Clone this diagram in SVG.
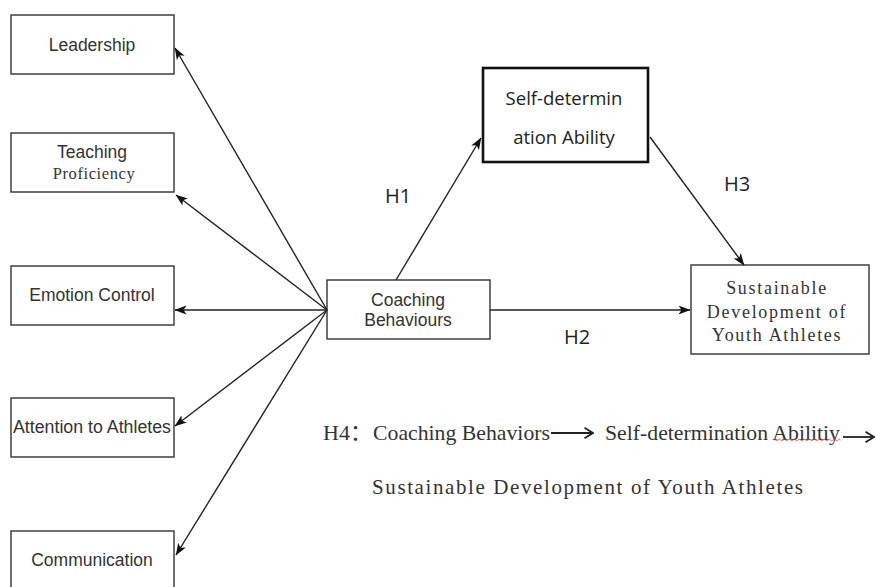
<svg xmlns="http://www.w3.org/2000/svg" width="876" height="587" viewBox="0 0 876 587">
<defs>
<marker id="ah" viewBox="0 0 12 10" refX="11.5" refY="5" markerWidth="12" markerHeight="10" markerUnits="userSpaceOnUse" orient="auto">
<path d="M0,0.5 L12,5 L0,9.5 L3,5 Z" fill="#111"/>
</marker>
<marker id="oh" viewBox="0 0 10 12" refX="9.5" refY="6" markerWidth="10" markerHeight="12" markerUnits="userSpaceOnUse" orient="auto">
<path d="M1,0.8 L9.5,6 L1,11.2" fill="none" stroke="#222" stroke-width="1.8"/>
</marker>
<style>
.box{fill:#fff;stroke:#333;stroke-width:1.4}
.sans{font-family:"Liberation Sans",Arial,sans-serif;font-size:17.5px;fill:#333;text-anchor:middle}
.ser{font-family:"Liberation Serif","Times New Roman",serif;fill:#333}
.cal{font-family:"Open Sans","Noto Sans",sans-serif;fill:#222;text-anchor:middle}
.con{stroke:#222;stroke-width:1.4;fill:none;marker-end:url(#ah)}
.h4a{stroke:#222;stroke-width:1.8;fill:none;marker-end:url(#oh)}
</style>
</defs>
<rect width="876" height="587" fill="#fff"/>
<g id="leadership"><rect class="box" x="11" y="15" width="163" height="59"/><text class="sans" x="92" y="51">Leadership</text></g>
<g id="teaching"><rect class="box" x="11" y="133" width="163" height="59"/><text class="sans" x="92" y="158">Teaching</text><text class="ser" x="94" y="179" font-size="16.5" text-anchor="middle" letter-spacing="0.6">Proficiency</text></g>
<g id="emotion"><rect class="box" x="11" y="266" width="163" height="59"/><text class="sans" x="92" y="301">Emotion Control</text></g>
<g id="attention"><rect class="box" x="11" y="398" width="163" height="59"/><text class="sans" x="92" y="433" textLength="158" lengthAdjust="spacingAndGlyphs">Attention to Athletes</text></g>
<g id="communication"><rect class="box" x="11" y="531" width="163" height="70"/><text class="sans" x="92" y="566">Communication</text></g>
<g id="coaching"><rect class="box" x="327" y="280" width="163" height="59"/><text class="sans" x="408" y="306">Coaching</text><text class="sans" x="408" y="326">Behaviours</text></g>
<g id="selfdet"><rect x="483" y="68" width="165" height="94" fill="#fff" stroke="#111" stroke-width="2.6"/><text class="cal" x="564" y="104.5" font-size="18.5">Self-determin</text><text class="cal" x="564" y="143.5" font-size="18.5">ation Ability</text></g>
<g id="sustainable"><rect class="box" x="691" y="265" width="178" height="89"/>
<text class="ser" x="777" y="294" font-size="18" text-anchor="middle" letter-spacing="1.7">Sustainable</text>
<text class="ser" x="777" y="318" font-size="18" text-anchor="middle" letter-spacing="1.7">Development of</text>
<text class="ser" x="777" y="341" font-size="18" text-anchor="middle" letter-spacing="1.7">Youth Athletes</text></g>
<g id="connectors">
<line class="con" x1="327" y1="310" x2="175" y2="48"/>
<line class="con" x1="327" y1="310" x2="176" y2="195"/>
<line class="con" x1="327" y1="310" x2="175" y2="310"/>
<line class="con" x1="327" y1="310" x2="175" y2="426"/>
<line class="con" x1="327" y1="310" x2="176" y2="555"/>
<line class="con" x1="396" y1="280" x2="481" y2="138"/>
<line class="con" x1="490" y1="310" x2="690" y2="310"/>
<line class="con" x1="650" y1="137" x2="744" y2="265"/>
</g>
<g id="labels">
<text class="cal" x="398" y="203" font-size="20">H1</text>
<text class="cal" x="577" y="344" font-size="20">H2</text>
<text class="cal" x="737" y="191" font-size="20">H3</text>
</g>
<g id="h4">
<text class="ser" x="323" y="440" font-size="22">H4<tspan font-family="'Noto Sans CJK SC',serif">：</tspan></text>
<text class="ser" x="373" y="440" font-size="22" textLength="177" lengthAdjust="spacingAndGlyphs">Coaching Behaviors</text>
<line class="h4a" x1="551" y1="433" x2="593" y2="433"/>
<text class="ser" x="605" y="440" font-size="22" textLength="235" lengthAdjust="spacingAndGlyphs">Self-determination Abilitiy</text>
<line class="h4a" x1="843" y1="437" x2="874" y2="437"/>
<path d="M773,440 q1.25,-1.6 2.5,0 t2.5,0 t2.5,0 t2.5,0 t2.5,0 t2.5,0 t2.5,0 t2.5,0 t2.5,0 t2.5,0 t2.5,0 t2.5,0 t2.5,0 t2.5,0 t2.5,0 t2.5,0 t2.5,0 t2.5,0 t2.5,0 t2.5,0 t2.5,0 t2.5,0 t2.5,0 t2.5,0 t2.5,0 t2.5,0 t2.5,0" fill="none" stroke="#d44" stroke-width="0.8"/>
<text class="ser" x="372" y="494" font-size="21" textLength="431" lengthAdjust="spacing">Sustainable Development of Youth Athletes</text>
</g>
</svg>
